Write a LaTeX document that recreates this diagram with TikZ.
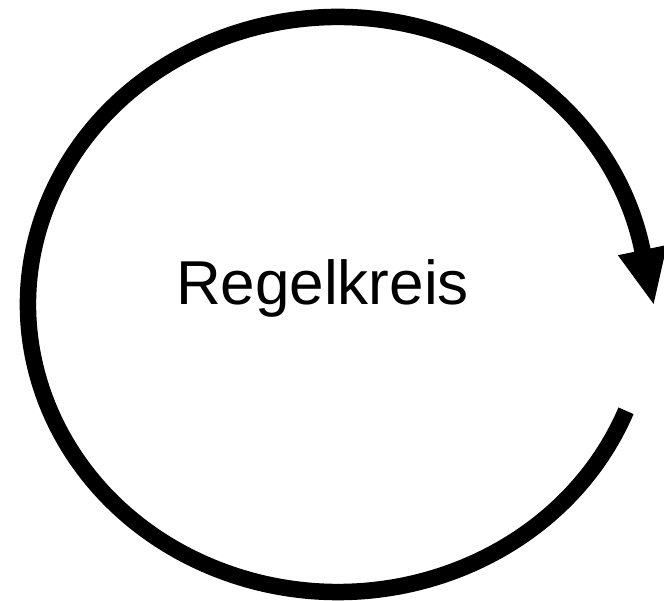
\documentclass[tikz,border=0pt]{standalone}
\usepackage{fontspec}
\setmainfont{Liberation Sans}
\usetikzlibrary{calc}
\begin{document}
\begin{tikzpicture}[x=1pt,y=1pt]
\tikzset{
  loopline/.style={line width=16.5pt, line cap=butt, draw=black},
  headtip/.style={fill=black},
  lbl/.style={font=\fontsize{62}{74}\selectfont, anchor=base, inner sep=0pt}
}
\useasboundingbox (0,0) rectangle (664,601);
\clip (0,0) rectangle (664,601);
\coordinate (c) at (338,296.5);
\draw[loopline] (c) ++(-21.7:310 and 287.5)
  arc[start angle=-21.7, end angle=-349.6, x radius=310, y radius=287.5] coordinate (b);
\coordinate (hb) at ($(c)+(10.9:310 and 287.5)$);
\fill[headtip] (hb) ++(-24.5,-5.1) -- ++(49,10.2) -- ++(-13.3,-58.9) -- cycle;
\node[lbl] (title) at (322.5,296) {Regelkreis};
\end{tikzpicture}
\end{document}
